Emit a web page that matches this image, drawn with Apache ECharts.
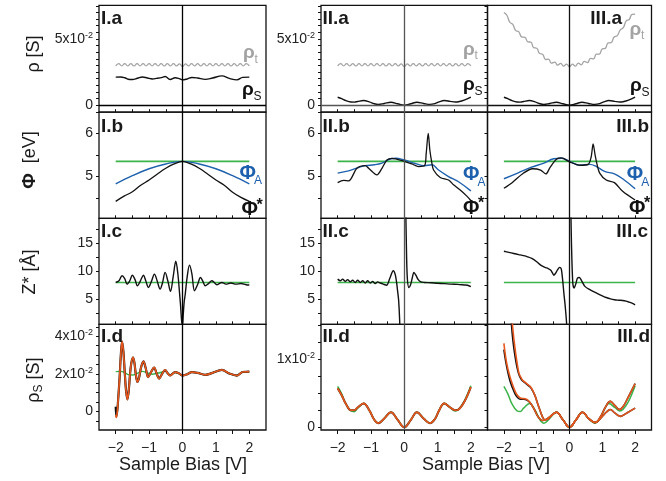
<!DOCTYPE html>
<html>
<head>
<meta charset="utf-8">
<script src="https://cdn.jsdelivr.net/npm/echarts@6/dist/echarts.min.js"></script>
<style>
  html, body { margin: 0; padding: 0; background: #fff; }
  #chart { width: 666px; height: 481px; }
</style>
</head>
<body>
<div id="chart"></div>
<script>
// ---------- data (sample bias in V) ----------
const bias = [-2, -1.91, -1.82, -1.73, -1.64, -1.55, -1.45, -1.36, -1.27, -1.18, -1.09, -1, -0.91, -0.82, -0.73, -0.64, -0.55, -0.45, -0.36, -0.27, -0.18, -0.09,
  0, 0.09, 0.18, 0.27, 0.36, 0.45, 0.55, 0.64, 0.73, 0.82, 0.91, 1, 1.09, 1.18, 1.27, 1.36, 1.45, 1.55, 1.64, 1.73, 1.82, 1.91, 2];

// tip conductance rho_t, columns I and II
const rhoTFlat = [0.0296, 0.0314, 0.0296, 0.0314, 0.0296, 0.0314, 0.0296, 0.0314, 0.0296, 0.0314, 0.0296, 0.0314, 0.0296, 0.0314, 0.0296, 0.0314, 0.0296, 0.0314, 0.0296, 0.0314, 0.0296, 0.0312,
  0.0292, 0.0312, 0.0296, 0.0314, 0.0296, 0.0314, 0.0296, 0.0314, 0.0296, 0.0314, 0.0296, 0.0314, 0.0296, 0.0314, 0.0296, 0.0314, 0.0296, 0.0314, 0.0296, 0.0314, 0.0296, 0.0314, 0.0296];
// tip conductance rho_t, column III
const rhoTIII = [0.0700, 0.0679, 0.0626, 0.0610, 0.0563, 0.0555, 0.0514, 0.0512, 0.0478, 0.0476, 0.0434, 0.0430, 0.0390, 0.0385, 0.0345, 0.0348, 0.0317, 0.0325, 0.0302, 0.0316, 0.0295, 0.0310,
  0.0291, 0.0310, 0.0295, 0.0317, 0.0305, 0.0331, 0.0322, 0.0353, 0.0350, 0.0385, 0.0386, 0.0425, 0.0429, 0.0470, 0.0472, 0.0515, 0.0523, 0.0569, 0.0585, 0.0637, 0.0647, 0.0686, 0.0688];

// sample conductance rho_S (model)
const rhoSI = [[-2, 0.0212], [-1.85, 0.0213], [-1.73, 0.0207], [-1.63, 0.0196], [-1.5, 0.0194], [-1.35, 0.0203], [-1.2, 0.0213], [-1.05, 0.0205], [-0.9, 0.0198], [-0.78, 0.0202],
  [-0.6, 0.021], [-0.52, 0.0216], [-0.37, 0.0194], [-0.22, 0.0207], [-0.1, 0.0201], [0, 0.0191], [0.14, 0.0198], [0.28, 0.0209], [0.45, 0.0205], [0.68, 0.0195], [0.9, 0.0205],
  [1.18, 0.0221], [1.4, 0.0202], [1.63, 0.0191], [1.8, 0.021], [2, 0.0212]];
const rhoSII = [[-2, 0.0060], [-1.88, 0.0049], [-1.75, 0.0034], [-1.6, 0.0024], [-1.5, 0.0023], [-1.4, 0.0028], [-1.22, 0.0035], [-1.05, 0.0025], [-0.9, 0.0011], [-0.78, 0.0006],
  [-0.6, 0.0013], [-0.4, 0.0022], [-0.2, 0.0011], [0, 0.0], [0.2, 0.0011], [0.38, 0.0022], [0.58, 0.0013], [0.77, 0.0006], [0.92, 0.0012], [1.05, 0.0025], [1.2, 0.0035],
  [1.38, 0.0029], [1.53, 0.0024], [1.63, 0.0026], [1.8, 0.0038], [2, 0.0061]];

// work function (eV)
const phiRef = [[-2, 5.35], [2, 5.35]];
const phiAI = [[-2, 4.83], [-1.5, 5.02], [-1, 5.18], [-0.5, 5.29], [0, 5.35], [0.5, 5.29], [1, 5.18], [1.5, 5.02], [2, 4.83]];
const phiStarI = [[-2, 4.43], [-1.75, 4.55], [-1.5, 4.65], [-1.25, 4.8], [-1, 4.92], [-0.75, 5.06], [-0.5, 5.19], [-0.25, 5.29], [0, 5.35], [0.25, 5.29], [0.5, 5.19],
  [0.75, 5.06], [1, 4.92], [1.25, 4.8], [1.5, 4.64], [1.75, 4.52], [2, 4.43]];
const phiAII = [[-2, 5.08], [-1.67, 5.13], [-1.4, 5.2], [-1.17, 5.25], [-0.9, 5.27], [-0.67, 5.31], [-0.4, 5.41], [-0.25, 5.42], [0, 5.38], [0.33, 5.3], [0.6, 5.25],
  [0.83, 5.27], [1.03, 5.15], [1.33, 5.0], [1.63, 4.88], [2, 4.67]];
const phiStarII = [[-2, 4.86], [-1.82, 4.91], [-1.67, 4.9], [-1.42, 5.19], [-1.17, 5.25], [-1.07, 5.19], [-0.82, 5.04], [-0.67, 5.19], [-0.52, 5.38], [-0.37, 5.42],
  [0, 5.35], [0.23, 5.29], [0.43, 5.23], [0.61, 5.25], [0.66, 5.54], [0.72, 5.99], [0.77, 5.6], [0.83, 5.31], [0.88, 5.15], [1.08, 4.98], [1.33, 4.92], [1.48, 4.81],
  [1.68, 4.69], [1.88, 4.55], [2, 4.45]];
const phiAIII = [[-2, 4.95], [-1.58, 5.08], [-1.18, 5.21], [-0.78, 5.31], [-0.48, 5.41], [-0.23, 5.42], [0, 5.35], [0.32, 5.26], [0.62, 5.28], [0.82, 5.23], [1.07, 5.12],
  [1.37, 5.06], [1.62, 4.95], [2, 4.72]];
const phiStarIII = [[-2, 4.73], [-1.75, 4.86], [-1.4, 5.08], [-1.13, 5.18], [-0.88, 5.15], [-0.72, 5.06], [-0.6, 5.2], [-0.4, 5.4], [-0.25, 5.43], [0, 5.34], [0.32, 5.26],
  [0.57, 5.28], [0.66, 5.45], [0.72, 5.75], [0.78, 5.5], [0.84, 5.28], [0.92, 5.08], [1.12, 4.92], [1.37, 4.86], [1.62, 4.66], [2, 4.46]];

// effective tip-sample distance Z* (Angstrom)
const zRef = [[-2, 8], [2, 8]];
const zStarI = [[-2, 8.0], [-1.9, 8.3], [-1.81, 9.2], [-1.73, 8.7], [-1.66, 7.7], [-1.58, 8.3], [-1.5, 9.3], [-1.42, 8.5], [-1.35, 7.4], [-1.26, 8.3], [-1.17, 9.3],
  [-1.1, 8.3], [-1.02, 7.1], [-0.93, 8.2], [-0.84, 9.5], [-0.76, 8.3], [-0.67, 6.8], [-0.6, 7.9], [-0.52, 9.8], [-0.44, 8.3], [-0.36, 6.4], [-0.28, 9.0], [-0.2, 11.8],
  [-0.14, 9.6], [-0.09, 6.2], [-0.06, 4.0], [-0.04, 2.2], [-0.02, 0.8], [0, 0.3], [0.02, 2.0], [0.05, 4.5], [0.08, 5.8], [0.14, 9.0], [0.21, 11.1], [0.28, 9.6],
  [0.36, 6.5], [0.45, 7.6], [0.54, 8.9], [0.61, 8.2], [0.68, 7.4], [0.78, 7.8], [0.88, 8.3], [0.95, 8.0], [1.03, 7.6], [1.1, 7.8], [1.18, 8.0], [1.3, 7.7], [1.45, 7.9],
  [1.6, 7.7], [1.75, 7.8], [1.9, 7.6], [2, 7.55]];
const zStarII = [[-2, 8.6], [-1.92, 8.3], [-1.85, 8.6], [-1.77, 8.2], [-1.7, 8.5], [-1.62, 8.1], [-1.55, 8.4], [-1.47, 8.0], [-1.4, 8.4], [-1.32, 8.0], [-1.25, 8.3],
  [-1.17, 7.9], [-1.1, 8.3], [-1.02, 7.9], [-0.95, 8.2], [-0.87, 7.8], [-0.8, 8.1], [-0.72, 7.9], [-0.63, 7.7], [-0.53, 7.5], [-0.43, 8.8], [-0.33, 10.1], [-0.27, 9.4],
  [-0.23, 8.0], [-0.2, 6.5], [-0.17, 4.9], [-0.14, 1.5], [-0.12, -3], [0, null], [0.035, 25], [0.06, 16], [0.09, 9.0], [0.14, 7.1], [0.19, 7.6], [0.24, 8.8], [0.29, 9.8],
  [0.35, 9.3], [0.42, 8.5], [0.5, 8.1], [0.6, 8.0], [0.8, 7.95], [1.0, 7.85], [1.2, 7.8], [1.4, 7.7], [1.6, 7.65], [1.8, 7.55], [1.9, 7.5], [2, 7.25]];
const zStarIII = [[-2, 13.6], [-1.85, 13.4], [-1.7, 13.2], [-1.55, 13.0], [-1.4, 12.8], [-1.28, 12.6], [-1.15, 12.3], [-1.0, 11.7], [-0.88, 11.1], [-0.75, 10.7],
  [-0.65, 10.5], [-0.57, 10.2], [-0.52, 9.7], [-0.48, 9.3], [-0.43, 9.6], [-0.37, 10.2], [-0.3, 10.7], [-0.25, 10.4], [-0.21, 8.5], [-0.17, 6.0], [-0.13, 3.7],
  [-0.09, 0.8], [-0.07, -2], [0, null], [0.03, 25], [0.06, 15], [0.1, 7.9], [0.14, 7.0], [0.19, 7.7], [0.24, 8.75], [0.3, 8.9], [0.37, 8.3], [0.47, 7.3], [0.62, 6.7],
  [0.75, 6.3], [0.87, 5.95], [1.0, 5.6], [1.12, 5.3], [1.25, 5.05], [1.37, 4.9], [1.5, 4.82], [1.62, 4.76], [1.72, 4.65], [1.82, 4.46], [1.92, 4.25], [2, 4.0]];

// sample conductance: measured (data) and fitted (fit)
const fitI = [[-2, -0.0019], [-1.98, -0.0032], [-1.95, 0.0005], [-1.92, 0.008], [-1.88, 0.019], [-1.85, 0.029], [-1.81, 0.0374], [-1.77, 0.032], [-1.73, 0.021],
  [-1.69, 0.011], [-1.65, 0.0063], [-1.61, 0.011], [-1.57, 0.02], [-1.53, 0.026], [-1.48, 0.0288], [-1.44, 0.026], [-1.4, 0.02], [-1.35, 0.0156], [-1.3, 0.018],
  [-1.24, 0.0235], [-1.17, 0.0267], [-1.1, 0.023], [-1.03, 0.0182], [-0.94, 0.021], [-0.85, 0.0235], [-0.78, 0.0205], [-0.7, 0.0174], [-0.61, 0.02], [-0.52, 0.0221],
  [-0.45, 0.0205], [-0.37, 0.0191], [-0.22, 0.0209], [-0.1, 0.0202], [0, 0.0191], [0.14, 0.0198], [0.28, 0.0209], [0.45, 0.0205], [0.68, 0.0195], [0.9, 0.0205],
  [1.18, 0.0221], [1.4, 0.0202], [1.63, 0.0191], [1.8, 0.021], [2, 0.0212]];
const dataI = [[-2, 0.0025], [-1.98, -0.0026], [-1.95, 0.001], [-1.92, 0.008], [-1.88, 0.019], [-1.85, 0.029], [-1.81, 0.0372], [-1.77, 0.032], [-1.73, 0.021],
  [-1.69, 0.011], [-1.65, 0.0064], [-1.61, 0.011], [-1.57, 0.02], [-1.53, 0.026], [-1.48, 0.0287], [-1.44, 0.026], [-1.4, 0.02], [-1.35, 0.0157], [-1.3, 0.018],
  [-1.24, 0.0235], [-1.17, 0.0266], [-1.1, 0.023], [-1.03, 0.0183], [-0.94, 0.021], [-0.85, 0.0234], [-0.78, 0.0205], [-0.7, 0.0175], [-0.61, 0.02], [-0.52, 0.022],
  [-0.45, 0.0205], [-0.37, 0.0192], [-0.22, 0.0209], [-0.1, 0.0202], [0, 0.0191], [0.14, 0.0198], [0.28, 0.0209], [0.45, 0.0205], [0.68, 0.0195], [0.9, 0.0205],
  [1.18, 0.0221], [1.4, 0.0202], [1.63, 0.0191], [1.8, 0.021], [2, 0.0212]];
const fitII = [[-2, 0.0057], [-1.88, 0.0047], [-1.75, 0.0034], [-1.6, 0.0025], [-1.5, 0.0025], [-1.4, 0.0029], [-1.22, 0.0035], [-1.05, 0.0025], [-0.9, 0.0011],
  [-0.78, 0.0006], [-0.6, 0.0013], [-0.4, 0.0022], [-0.2, 0.0011], [0, 0.0], [0.2, 0.0011], [0.38, 0.0022], [0.58, 0.0013], [0.77, 0.0006], [0.92, 0.0012],
  [1.05, 0.0025], [1.2, 0.0035], [1.38, 0.0029], [1.53, 0.0025], [1.63, 0.0026], [1.8, 0.0037], [2, 0.0059]];
const dataII = fitII;
const fitIIIa = [[-1.8, 0.0195], [-1.74, 0.0151], [-1.69, 0.0127], [-1.64, 0.0108], [-1.59, 0.0092], [-1.54, 0.0079], [-1.48, 0.0073], [-1.43, 0.0069], [-1.35, 0.0066],
  [-1.28, 0.0063], [-1.2, 0.0060], [-1.13, 0.0055], [-1.05, 0.0046], [-0.98, 0.0036], [-0.9, 0.0025], [-0.83, 0.0016], [-0.75, 0.0011], [-0.65, 0.0012], [-0.58, 0.0016],
  [-0.4, 0.0022], [-0.2, 0.0011], [0, 0], [0.2, 0.0011], [0.4, 0.0022], [0.58, 0.0013], [0.78, 0.0007], [0.95, 0.0016], [1.1, 0.0030], [1.24, 0.0038], [1.38, 0.0032],
  [1.52, 0.0026], [1.63, 0.0030], [1.8, 0.0045], [2, 0.0064]];
const dataIIIa = [[-1.82, 0.0195], [-1.77, 0.0151], [-1.72, 0.0125], [-1.66, 0.0104], [-1.6, 0.0088], [-1.54, 0.0077], [-1.48, 0.0071], [-1.43, 0.0068], [-1.35, 0.0065],
  [-1.28, 0.0062], [-1.2, 0.0059], [-1.13, 0.0054], [-1.05, 0.0046], [-0.98, 0.0036], [-0.9, 0.0025], [-0.83, 0.0016], [-0.75, 0.0011], [-0.65, 0.0012], [-0.58, 0.0016],
  [-0.4, 0.0022], [-0.2, 0.0011], [0, 0], [0.2, 0.0011], [0.4, 0.0022], [0.58, 0.0013], [0.78, 0.0007], [0.95, 0.0016], [1.1, 0.0030], [1.24, 0.0038], [1.38, 0.0032],
  [1.52, 0.0026], [1.63, 0.0030], [1.8, 0.0045], [2, 0.0064]];
const fitIIIb = [[-2, 0.0123], [-1.95, 0.0104], [-1.89, 0.0088], [-1.82, 0.0075], [-1.74, 0.0063], [-1.66, 0.0053], [-1.59, 0.0047], [-1.5, 0.0043], [-1.4, 0.0042],
  [-1.3, 0.0041], [-1.2, 0.0036], [-1.13, 0.0031], [-1.05, 0.0024], [-0.98, 0.0017], [-0.9, 0.0012], [-0.83, 0.0010], [-0.73, 0.0011], [-0.58, 0.0016], [-0.4, 0.0022],
  [-0.2, 0.0011], [0, 0], [0.2, 0.0011], [0.4, 0.0022], [0.58, 0.0013], [0.78, 0.0007], [0.98, 0.0015], [1.12, 0.0022], [1.24, 0.0026], [1.38, 0.0021], [1.55, 0.0016],
  [1.75, 0.0021], [2, 0.0028]];
const dataIIIb = [[-2, 0.0114], [-1.95, 0.0098], [-1.89, 0.0083], [-1.82, 0.0069], [-1.74, 0.0058], [-1.66, 0.0049], [-1.59, 0.0044], [-1.5, 0.0041], [-1.4, 0.0041],
  [-1.3, 0.0040], [-1.2, 0.0036], [-1.13, 0.0031], [-1.05, 0.0024], [-0.98, 0.0017], [-0.9, 0.0012], [-0.83, 0.0010], [-0.73, 0.0011], [-0.58, 0.0016], [-0.4, 0.0022],
  [-0.2, 0.0011], [0, 0], [0.2, 0.0011], [0.4, 0.0022], [0.58, 0.0013], [0.78, 0.0007], [0.98, 0.0015], [1.12, 0.0022], [1.24, 0.0026], [1.38, 0.0021], [1.55, 0.0016],
  [1.75, 0.0021], [2, 0.0028]];

// axis ticks and labels
const xTickValues = [-2, -1.5, -1, -0.5, 0, 0.5, 1, 1.5, 2];
const xLabelValues = [-2, -1, 0, 1, 2];
const rhoTicks = [-0.005, 0, 0.005, 0.01, 0.015, 0.02, 0.025, 0.03, 0.035, 0.04, 0.045, 0.05, 0.055, 0.06, 0.065, 0.07, 0.075];
const rhoLabels = [0, 0.05];
const phiTicks = [4.5, 5, 5.5, 6];
const phiLabels = [5, 6];
const zTicks = [2.5, 5, 7.5, 10, 12.5, 15, 17.5];
const zLabels = [5, 10, 15];
const rhoSTicksI = [-0.005, 0, 0.005, 0.01, 0.015, 0.02, 0.025, 0.03, 0.035, 0.04, 0.045];
const rhoSLabelsI = [0, 0.02, 0.04];
const rhoSTicksII = [0, 0.0025, 0.005, 0.0075, 0.01, 0.0125, 0.015];
const rhoSLabelsII = [0, 0.01];

// ---------- layout ----------
const FONT = '"Liberation Sans", Arial, Helvetica, sans-serif';
const colLeft = [99, 321, 487.5];
const colWidth = [167, 166.5, 164];
const rowTop = [5.3, 112.2, 218.3, 324.3];
const rowBottom = [112.2, 218.3, 324.3, 430];
const yRange = [
  [[-0.0053, 0.0754], [-0.0053, 0.0754], [-0.0053, 0.0754]],
  [[4.04, 6.48], [4.04, 6.48], [4.04, 6.48]],
  [[0.5, 19.5], [0.5, 19.5], [0.5, 19.5]],
  [[-0.0099, 0.0464], [-0.0004, 0.0151], [-0.0004, 0.0151]]
];
const yTickSets = [
  [rhoTicks, rhoTicks, rhoTicks],
  [phiTicks, phiTicks, phiTicks],
  [zTicks, zTicks, zTicks],
  [rhoSTicksI, rhoSTicksII, rhoSTicksII]
];
const yLabelSets = [
  [rhoLabels, rhoLabels, rhoLabels],
  [phiLabels, phiLabels, phiLabels],
  [zLabels, zLabels, zLabels],
  [rhoSLabelsI, rhoSLabelsII, rhoSLabelsII]
];

const GREEN = '#3cb44a', BLUE = '#1d60ad', ORANGE = '#e5571d', GRAY = '#a3a3a3', BLACK = '#111';

function sciLabel(v) {
  if (Math.abs(v) < 1e-12) return '{m|0}';
  if (Math.abs(v) < 1) return '{m|' + Math.round(v * 100) + 'x10}{s|-2}';
  return '{m|' + v + '}';
}

const grids = [], xAxes = [], yAxes = [];
for (let r = 0; r < 4; r++) {
  for (let c = 0; c < 3; c++) {
    const gi = r * 3 + c;
    grids.push({
      left: colLeft[c], top: rowTop[r], width: colWidth[c], height: rowBottom[r] - rowTop[r],
      show: true, borderColor: BLACK, borderWidth: 1.3, backgroundColor: 'transparent'
    });
    xAxes.push({
      type: 'value', gridIndex: gi, min: -2.5, max: 2.5, position: 'bottom',
      axisLine: { show: false, onZero: false }, splitLine: { show: false },
      axisTick: { show: true, inside: r < 3, length: r < 3 ? 3 : 4, customValues: xTickValues, lineStyle: { color: BLACK, width: 1 } },
      axisLabel: {
        show: r === 3, customValues: xLabelValues, margin: 11, fontSize: 14, color: '#222', fontFamily: FONT,
        formatter: v => (v < 0 ? '\u2212' + (-v) : String(v))
      }
    });
    yAxes.push({
      type: 'value', gridIndex: gi, min: yRange[r][c][0], max: yRange[r][c][1], position: 'left',
      axisLine: { show: false, onZero: false }, splitLine: { show: false },
      axisTick: { show: true, inside: false, length: 3, customValues: yTickSets[r][c], lineStyle: { color: BLACK, width: 1 } },
      axisLabel: {
        show: c < 2, customValues: yLabelSets[r][c], margin: 6, fontFamily: FONT,
        formatter: sciLabel,
        rich: {
          m: { fontSize: 14, color: '#222', fontFamily: FONT, lineHeight: 16 },
          s: { fontSize: 9, color: '#222', fontFamily: FONT, lineHeight: 9, verticalAlign: 'top' }
        }
      }
    });
  }
}

function ln(gi, pairs, color, width, extra) {
  return Object.assign({
    type: 'line', xAxisIndex: gi, yAxisIndex: gi, data: pairs,
    showSymbol: false, symbol: 'none', smooth: 0.4, animation: false, silent: true,
    connectNulls: false, emphasis: { disabled: true },
    lineStyle: { color: color, width: width }
  }, extra || {});
}
function zeroLines(withHorizontal, color) {
  const d = [{ xAxis: 0 }];
  if (withHorizontal) d.push({ yAxis: 0 });
  return {
    markLine: {
      silent: true, symbol: ['none', 'none'], label: { show: false }, animation: false,
      emphasis: { disabled: true },
      lineStyle: { color: color, width: 1.3, type: 'solid' }, data: d
    }
  };
}
const zip = (xs, ys) => xs.map((x, i) => [x, ys[i]]);
const vColor = ['#000', '#555', '#111'];

const series = [
  // row a: conductances
  ln(0, zip(bias, rhoTFlat), GRAY, 1.3, Object.assign({ smooth: 0.5 }, zeroLines(true, vColor[0]))),
  ln(0, rhoSI, BLACK, 1.4),
  ln(1, zip(bias, rhoTFlat), GRAY, 1.3, Object.assign({ smooth: 0.5 }, zeroLines(true, vColor[1]))),
  ln(1, rhoSII, BLACK, 1.4),
  ln(2, zip(bias, rhoTIII), GRAY, 1.3, Object.assign({ smooth: 0.5 }, zeroLines(true, vColor[2]))),
  ln(2, rhoSII, BLACK, 1.4),
  // row b: work function
  ln(3, phiRef, GREEN, 1.6, zeroLines(false, vColor[0])),
  ln(3, phiAI, BLUE, 1.4),
  ln(3, phiStarI, BLACK, 1.3),
  ln(4, phiRef, GREEN, 1.6, zeroLines(false, vColor[1])),
  ln(4, phiAII, BLUE, 1.4),
  ln(4, phiStarII, BLACK, 1.3, { smooth: 0.3 }),
  ln(5, phiRef, GREEN, 1.6, zeroLines(false, vColor[2])),
  ln(5, phiAIII, BLUE, 1.4),
  ln(5, phiStarIII, BLACK, 1.3, { smooth: 0.3 }),
  // row c: Z*
  ln(6, zRef, GREEN, 1.6, zeroLines(false, vColor[0])),
  ln(6, zStarI, BLACK, 1.4, { smooth: 0.35 }),
  ln(7, zRef, GREEN, 1.6, zeroLines(false, vColor[1])),
  ln(7, zStarII, BLACK, 1.4, { smooth: 0.3 }),
  ln(8, zRef, GREEN, 1.6, zeroLines(false, vColor[2])),
  ln(8, zStarIII, BLACK, 1.4, { smooth: 0.3 }),
  // row d: sample conductance, model / data / fit
  ln(9, rhoSI, GREEN, 1.4, zeroLines(false, vColor[0])),
  ln(9, dataI, BLACK, 2.2, { smooth: 0.35 }),
  ln(9, fitI, ORANGE, 1.7, { smooth: 0.35 }),
  ln(10, rhoSII, GREEN, 1.6, zeroLines(false, vColor[1])),
  ln(10, dataII, '#5a2a10', 2.0),
  ln(10, fitII, ORANGE, 1.6),
  ln(11, rhoSII, GREEN, 1.5, zeroLines(false, vColor[2])),
  ln(11, dataIIIa, BLACK, 1.6),
  ln(11, dataIIIb, BLACK, 1.6),
  ln(11, fitIIIa, ORANGE, 1.6),
  ln(11, fitIIIb, ORANGE, 1.6)
];

// ---------- text ----------
function txt(x, y, text, size, opts) {
  const o = opts || {};
  return {
    type: 'text', x: x, y: y, rotation: o.rotation || 0, silent: true, z: 100,
    style: {
      text: text, fontSize: size, fontFamily: FONT, fontWeight: o.weight || 'normal',
      fill: o.color || '#111', align: o.align || 'left', verticalAlign: 'middle',
      rich: o.rich
    }
  };
}
const panelNames = [['I.a', 'II.a', 'III.a'], ['I.b', 'II.b', 'III.b'], ['I.c', 'II.c', 'III.c'], ['I.d', 'II.d', 'III.d']];
const panelNameY = [18.7, 127, 232, 337];
const panelNameRight = [622, 649, 648, 650];
const graphics = [];
for (let r = 0; r < 4; r++) {
  graphics.push(txt(101, panelNameY[r], panelNames[r][0], 19, { weight: 'bold', color: '#1a1a1a' }));
  graphics.push(txt(322.5, panelNameY[r], panelNames[r][1], 19, { weight: 'bold', color: '#1a1a1a' }));
  graphics.push(txt(panelNameRight[r], panelNameY[r], panelNames[r][2], 19, { weight: 'bold', color: '#1a1a1a', align: 'right' }));
}
// axis titles
const rotUp = Math.PI / 2;
graphics.push(txt(34, 54, 'ρ [S]', 18, { rotation: rotUp, align: 'center', color: '#1a1a1a' }));
graphics.push(txt(30, 160, '{b|Φ}{n|  [eV]}', 18, {
  rotation: rotUp, align: 'center',
  rich: { b: { fontSize: 19, fontWeight: 'bold', fontFamily: FONT, fill: '#1a1a1a' }, n: { fontSize: 18, fontFamily: FONT, fill: '#1a1a1a' } }
}));
graphics.push(txt(30, 272, 'Z* [Å]', 18, { rotation: rotUp, align: 'center', color: '#1a1a1a' }));
graphics.push(txt(34, 380, '{n|ρ}{s|S}{n| [S]}', 18, {
  rotation: rotUp, align: 'center',
  rich: {
    n: { fontSize: 18, fontFamily: FONT, fill: '#1a1a1a', lineHeight: 22 },
    s: { fontSize: 12, fontFamily: FONT, fill: '#1a1a1a', lineHeight: 12, verticalAlign: 'bottom' }
  }
}));
graphics.push(txt(183, 465, 'Sample Bias [V]', 18, { align: 'center', color: '#1a1a1a' }));
graphics.push(txt(486, 465, 'Sample Bias [V]', 18, { align: 'center', color: '#1a1a1a' }));

// curve names inside the panels
function rhoName(x, y, sub, color, subDy) {
  graphics.push(txt(x, y, 'ρ', 19, { weight: 'bold', color: color }));
  graphics.push(txt(x + 11.5, y + subDy, sub, 12, { color: color }));
}
function phiName(x, y, color, sub) {
  graphics.push(txt(x, y, 'Φ', 20, { weight: 'bold', color: color }));
  if (sub === '*') graphics.push(txt(x + 15, y - 4.5, '*', 16, { weight: 'bold', color: color }));
  else graphics.push(txt(x + 14.5, y + 8, sub, 12, { color: color }));
}
rhoName(243, 52.7, 't', GRAY, 6.5);
rhoName(242, 89.5, 'S', BLACK, 7);
rhoName(463, 49.4, 't', GRAY, 6.5);
rhoName(463, 84.4, 'S', BLACK, 7);
rhoName(629.5, 29.4, 't', GRAY, 6.5);
rhoName(630, 86, 'S', BLACK, 7);
phiName(239.5, 173, BLUE, 'A');
phiName(241.5, 209.7, BLACK, '*');
phiName(463, 174.7, BLUE, 'A');
phiName(463, 208, BLACK, '*');
phiName(626.7, 174.7, BLUE, 'A');
phiName(629, 208, BLACK, '*');

const chart = echarts.init(document.getElementById('chart'), null, { renderer: 'canvas' });
chart.setOption({
  animation: false,
  backgroundColor: '#fff',
  textStyle: { fontFamily: FONT },
  grid: grids,
  xAxis: xAxes,
  yAxis: yAxes,
  series: series,
  graphic: graphics
});
</script>
</body>
</html>
